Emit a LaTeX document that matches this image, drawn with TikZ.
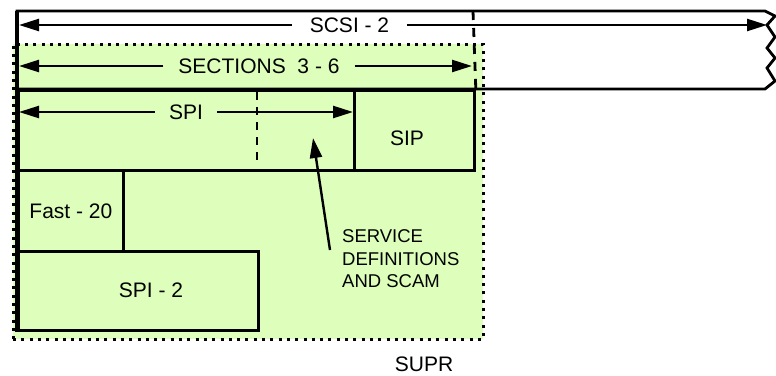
\documentclass[tikz,border=0pt]{standalone}
\usepackage{fontspec}
\setmainfont{Liberation Sans}
\usetikzlibrary{arrows.meta}
\definecolor{supgreen}{RGB}{221,255,187}
\begin{document}
\begin{tikzpicture}[x=1pt,y=-1pt,
  boxst/.style={draw=black, line width=2.8pt, fill=supgreen, inner sep=0pt, anchor=north west},
  lbl/.style={font=\fontsize{21}{25}\selectfont, inner ysep=0pt},
  small/.style={font=\fontsize{18.5}{22.5}\selectfont, inner sep=0pt, align=left},
  arr/.style={line width=2.4pt, -{Triangle[length=20pt,width=12pt]}},
  dashln/.style={line width=2.8pt, dash pattern=on 9pt off 8pt},
  dotbox/.style={draw=black, line width=3pt, dash pattern=on 3pt off 5.3pt, fill=supgreen, inner sep=0pt, anchor=north west},
  outl/.style={line width=2.8pt, line join=miter}
]
\useasboundingbox (0,0) rectangle (776,375);
% SUPR area
\node[dotbox, minimum width=470pt, minimum height=295pt] (supr) at (11.5,42.5) {};
% SCSI-2 outline
\coordinate (scsiTL) at (17,11);
\coordinate (scsiBL) at (17,89);
\draw[outl] (scsiTL) -- (765,11) -- (775,16) -- (767,25) -- (775,37) -- (767,48)
  -- (775,58) -- (767,68) -- (775,81) -- (765,89) -- (scsiBL) -- cycle;
% boxes
\node[boxst, minimum width=336pt, minimum height=80pt] (spi) at (17,89) {};
\node[boxst, minimum width=120pt, minimum height=80pt] (sip) at (353,89) {};
\node[boxst, minimum width=105pt, minimum height=81pt] (fast) at (17,169) {};
\node[boxst, minimum width=240pt, minimum height=79pt] (spitwo) at (17,250) {};
% dashed lines
\coordinate (dashTop) at (473,11);
\draw[dashln] (dashTop) -- (sip.north east);
\coordinate (spiDashT) at (257,92);
\coordinate (spiDashB) at (257,166);
\draw[dashln, dash pattern=on 8pt off 7pt] (spiDashT) -- (spiDashB);
\draw[line width=3.4pt] (scsiTL) -- (spitwo.south west);
% labels
\node[lbl, inner xsep=17.5pt] (scsilbl) at (349.5,25) {SCSI - 2};
\coordinate (scsiL) at (19,25);
\coordinate (scsiR) at (767,25);
\draw[arr] (scsilbl.west) -- (scsiL);
\draw[arr] (scsilbl.east) -- (scsiR);
\node[lbl, inner xsep=15pt] (seclbl) at (259,66) {SECTIONS~~3 - 6};
\coordinate (secL) at (19,66);
\coordinate (secR) at (472,66);
\draw[arr] (seclbl.west) -- (secL);
\draw[arr] (seclbl.east) -- (secR);
\node[lbl, inner xsep=14pt] (spilbl) at (186,112) {SPI};
\coordinate (spiL) at (19,112);
\draw[arr] (spilbl.west) -- (spiL);
\draw[arr] (spilbl.east) -- (sip.west |- spilbl);
\node[lbl] (siplbl) at (407,138) {SIP};
\node[lbl] (fastlbl) at (fast.center) {Fast - 20};
\node[lbl] (spitwolbl) at (151,290) {SPI - 2};
\node[small, anchor=west] (svc) at (342,259) {SERVICE\\DEFINITIONS\\AND SCAM};
\coordinate (svcStart) at (330,250);
\coordinate (svcTip) at (313,138);
\draw[arr] (svcStart) -- (svcTip);
\node[lbl] (suprlbl) at (424,364) {SUPR};
\end{tikzpicture}
\end{document}
